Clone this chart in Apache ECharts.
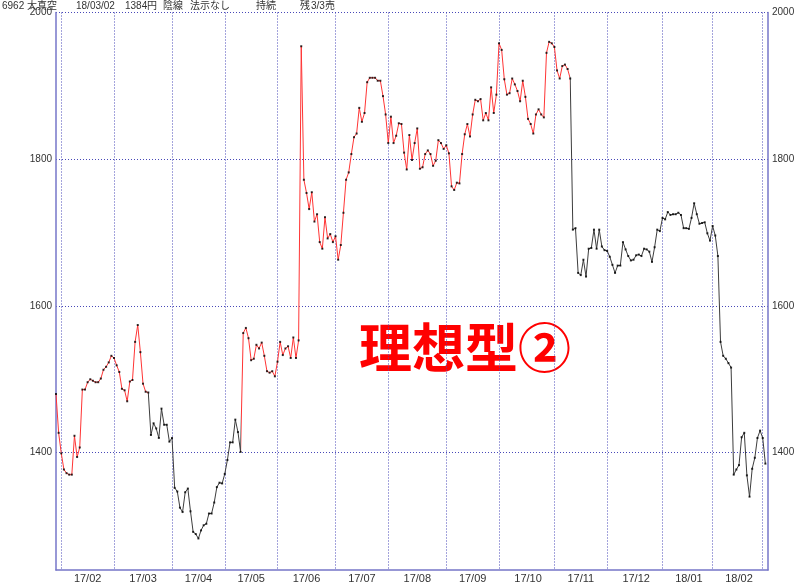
<!DOCTYPE html>
<html><head><meta charset="utf-8">
<script src="https://cdn.jsdelivr.net/npm/echarts@6/dist/echarts.min.js"></script>
<style>html,body{margin:0;padding:0;background:#fff}#c{width:800px;height:584px}</style>
</head><body><div id="c"></div>
<script>
// daily closing prices (2017/01/30 .. 2018/03/02)
const prices = [
 1480,1427,1399,1377,1372,1370,1370,1423,1394,1407,
 1486,1486,1496,1500,1498,1496,1496,1501,1513,1517,
 1523,1532,1529,1519,1510,1487,1485,1470,1497,1499,
 1551,1574,1537,1494,1483,1482,1424,1440,1433,1420,
 1460,1438,1438,1415,1420,1352,1347,1325,1319,1346,
 1351,1320,1292,1289,1283,1294,1301,1303,1317,1317,
 1332,1353,1359,1358,1371,1390,1414,1414,1445,1428,
 1401,1563,1570,1556,1526,1528,1547,1542,1550,1532,
 1511,1509,1511,1504,1524,1551,1533,1542,1545,1529,
 1557,1529,1553,1954,1772,1754,1732,1755,1715,1725,
 1687,1678,1721,1692,1698,1687,1695,1663,1683,1727,
 1772,1782,1807,1830,1835,1870,1851,1863,1905,1911,
 1911,1911,1907,1907,1886,1861,1822,1858,1822,1832,
 1849,1848,1809,1786,1833,1799,1822,1842,1787,1789,
 1807,1812,1807,1791,1798,1826,1822,1814,1819,1808,
 1763,1758,1768,1767,1807,1834,1848,1831,1861,1881,
 1879,1882,1853,1863,1853,1898,1863,1888,1958,1949,
 1909,1888,1890,1910,1902,1893,1879,1907,1885,1855,
 1848,1835,1861,1868,1861,1857,1945,1960,1958,1953,
 1921,1910,1927,1929,1923,1910,1704,1706,1645,1642,
 1663,1640,1678,1679,1704,1678,1704,1681,1676,1675,
 1667,1656,1645,1655,1655,1687,1677,1668,1662,1663,
 1669,1670,1668,1678,1677,1674,1660,1680,1704,1702,
 1720,1718,1728,1724,1725,1725,1727,1724,1706,1706,
 1705,1720,1740,1725,1712,1713,1714,1699,1689,1709,
 1696,1668,1551,1532,1528,1522,1516,1370,1377,1383,
 1421,1427,1369,1340,1378,1393,1420,1430,1420,1385
];
// index of first trading day of each month (grid lines)
const monthStarts = [2,22,44,64,84,106,126,148,168,189,209,230,249,268];
const monthLabels = ['17/02','17/03','17/04','17/05','17/06','17/07','17/08','17/09','17/10','17/11','17/12','18/01','18/02'];
// holding state: red = buy-side periods (index ranges)
const redEnd1 = 35, blackEnd1 = 69.5, redEnd2 = 195;
const yMin = 1240, yMax = 2000, yStep = 40, yLabelStep = 200;

// header words
const headerWords = ['6962', '大真空', '18/03/02', '1384', '円', '陰線', '法示なし', '持続', '残', '3/3', '売'];
const headerX = [2, 27, 76, 125, 147, 163, 190, 256, 300, 311, 325];
const bigText = '理想型②';

const cats = [];
for (let i = 0; i <= prices.length; i++) cats.push(String(i));
const labelAt = {};
for (let k = 0; k < monthLabels.length; k++) {
  labelAt[Math.round((monthStarts[k] + monthStarts[k + 1]) / 2)] = monthLabels[k];
}
const startSet = new Set(monthStarts);

const gridColor = '#4848b8';
const borderColor = '#7676c8';
const splitColors = [];
for (let v = yMin; v <= yMax; v += yStep) splitColors.push(v % yLabelStep === 0 ? gridColor : 'rgba(0,0,0,0)');

const headerGraphics = headerWords.map((w, k) => {
  const cjk = /[^\x00-\x7f]/.test(w);
  return {
    type: 'text', left: headerX[k], top: cjk ? 0 : 1,
    style: {text: w, fill: '#333', font: cjk ? '10px "Noto Sans CJK JP"' : '10px "Liberation Sans"'}
  };
});

const chart = echarts.init(document.getElementById('c'), null, {renderer: 'canvas'});
const yAxisBase = {
  type: 'value', min: yMin, max: yMax, interval: yStep,
  axisLine: {show: true, lineStyle: {color: borderColor, width: 1.5}},
  axisTick: {show: false},
  axisLabel: {
    formatter: v => (v % yLabelStep === 0 ? String(v) : ''),
    color: '#333', fontSize: 10, fontFamily: 'Liberation Sans', margin: 4,
    showMinLabel: false
  }
};
chart.setOption({
  animation: false,
  backgroundColor: '#fff',
  grid: {left: 56, right: 32, top: 12.5, bottom: 12, containLabel: false},
  xAxis: {
    type: 'category', boundaryGap: false, data: cats,
    axisLine: {show: true, lineStyle: {color: borderColor, width: 1.5}},
    axisTick: {show: false},
    axisLabel: {
      interval: (i) => labelAt[i] !== undefined,
      formatter: (v, i) => labelAt[i] || '',
      color: '#333', fontSize: 11, fontFamily: 'Liberation Sans', margin: 3
    },
    splitLine: {show: true, interval: (i) => startSet.has(i),
      lineStyle: {color: gridColor, type: [1, 2], width: 1}}
  },
  yAxis: [
    Object.assign({}, yAxisBase, {position: 'left',
      splitLine: {show: true, lineStyle: {color: splitColors, type: [1, 2], width: 1}}}),
    Object.assign({}, yAxisBase, {position: 'right', splitLine: {show: false}})
  ],
  visualMap: {
    type: 'piecewise', show: false, dimension: 0, seriesIndex: 0,
    pieces: [
      {lte: redEnd1, color: '#ff3434'},
      {gt: redEnd1, lte: blackEnd1, color: '#3c3c3c'},
      {gt: blackEnd1, lte: redEnd2, color: '#ff3434'},
      {gt: redEnd2, color: '#3c3c3c'}
    ]
  },
  series: [
    {type: 'line', data: prices, showSymbol: false, lineStyle: {width: 1}, z: 2},
    {type: 'scatter', data: prices, symbol: 'rect', symbolSize: 2, itemStyle: {color: '#000'}, z: 3, silent: true}
  ],
  graphic: headerGraphics.concat([
    {type: 'text', x: 465, y: 348, style: {text: bigText, fill: '#ff0000', font: 'bold 53px "Noto Sans CJK JP"', align: 'center', verticalAlign: 'middle'}}
  ])
});
</script>
</body></html>
